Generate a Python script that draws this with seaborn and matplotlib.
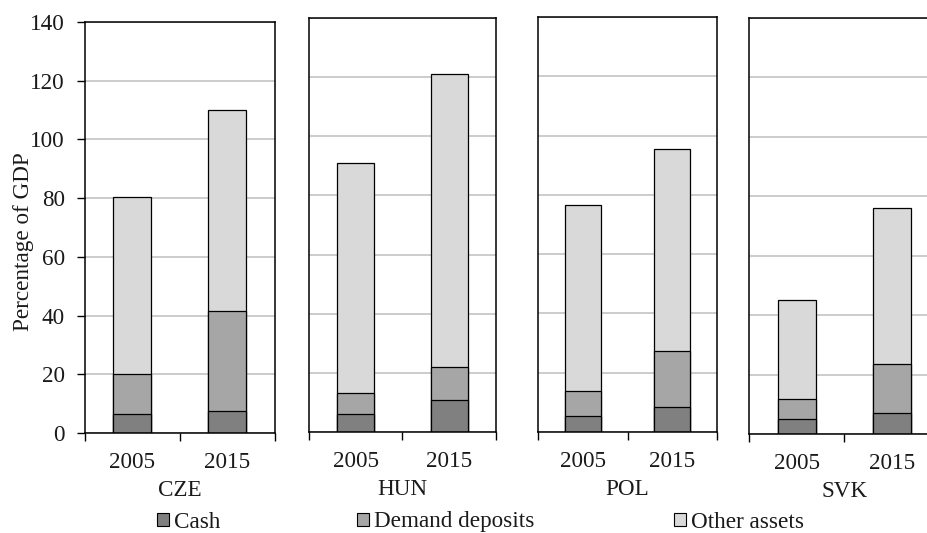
import matplotlib
matplotlib.use("Agg")
import matplotlib.pyplot as plt
from matplotlib.patches import Patch
import pandas as pd
import seaborn as sns

# Financial assets of households, % of GDP
countries = ["CZE", "HUN", "POL", "SVK"]
years = ["2005", "2015"]
cash = [6.5, 7.5, 6.0, 10.7, 5.4, 8.3, 5.2, 7.2]
demand_deposits = [13.6, 34.1, 7.2, 11.2, 8.5, 18.9, 6.6, 16.4]
other_assets = [60.3, 68.4, 77.8, 99.1, 62.6, 68.4, 33.2, 52.5]
series_names = ["Cash", "Demand deposits", "Other assets"]
yticks = [0, 20, 40, 60, 80, 100, 120, 140]

df = pd.DataFrame({
    "country": [c for c in countries for _ in years],
    "year": years * len(countries),
    "cash": cash,
    "demand": demand_deposits,
    "other": other_assets,
})
df["cash_demand"] = df["cash"] + df["demand"]
df["total"] = df["cash_demand"] + df["other"]

colors = {"Cash": "#808080", "Demand deposits": "#a6a6a6", "Other assets": "#d9d9d9"}
text_color = "#1a1a1a"
fs = 16.7

sns.set_style("ticks")
plt.rcParams["font.family"] = ["Liberation Serif", "DejaVu Serif"]
plt.rcParams["font.size"] = fs
plt.rcParams["text.color"] = text_color
plt.rcParams["axes.labelcolor"] = text_color
plt.rcParams["xtick.color"] = "black"
plt.rcParams["ytick.color"] = "black"
plt.rcParams["xtick.labelcolor"] = text_color
plt.rcParams["ytick.labelcolor"] = text_color

W, H = 928, 533
fig = plt.figure(figsize=(W / 100, H / 100), dpi=100)

# panel boxes in pixels: left, right, top, bottom
boxes = {
    "CZE": (85, 275, 22, 433),
    "HUN": (309, 496, 18, 432),
    "POL": (538, 717, 17, 432),
    "SVK": (749, 940, 18, 434),
}

for i, country in enumerate(countries):
    l, r, t, b = boxes[country]
    ax = fig.add_axes([l / W, 1 - b / H, (r - l) / W, (b - t) / H])
    sub = df[df["country"] == country]
    for col, name in [("total", "Other assets"),
                      ("cash_demand", "Demand deposits"),
                      ("cash", "Cash")]:
        sns.barplot(data=sub, x="year", y=col, order=years, color=colors[name],
                    saturation=1, width=0.4, edgecolor="black", linewidth=0.9,
                    errorbar=None, ax=ax)
    ax.set_xlim(-0.5, 1.5)
    ax.set_ylim(0, 140)
    ax.set_yticks(yticks)
    ax.yaxis.grid(True, color="#bfbfbf", linewidth=1.1)
    ax.set_axisbelow(True)
    for s in ax.spines.values():
        s.set_visible(True)
        s.set_linewidth(1.1)
        s.set_color("black")
    ax.set_xticks([-0.5, 0.5, 1.5], minor=True)
    ax.tick_params(axis="x", which="major", length=0, pad=14, labelsize=fs)
    ax.tick_params(axis="x", which="minor", length=5.5, width=1.0, direction="out")
    ax.set_xlabel(country, fontsize=fs, labelpad=5)
    if i == 0:
        ax.tick_params(axis="y", length=5.5, width=1.0, direction="out",
                       pad=9, labelsize=fs)
        ax.set_ylabel("Percentage of GDP", fontsize=fs, va="center")
        ax.yaxis.set_label_coords(-0.322, 0.465)
    else:
        ax.tick_params(axis="y", left=False, labelleft=False)
        ax.set_ylabel("")

# legend entries placed along the bottom
legend_x = [157, 357, 674]
for name, x in zip(series_names, legend_x):
    fig.legend(handles=[Patch(facecolor=colors[name], edgecolor="black", linewidth=0.8,
                              label=name)],
               loc="center left", bbox_to_anchor=(x / W, 1 - 522 / H),
               frameon=False, borderpad=0, borderaxespad=0,
               handlelength=0.5, handleheight=0.5, handletextpad=0.25,
               fontsize=fs)

fig.savefig("out.png", dpi=100)
